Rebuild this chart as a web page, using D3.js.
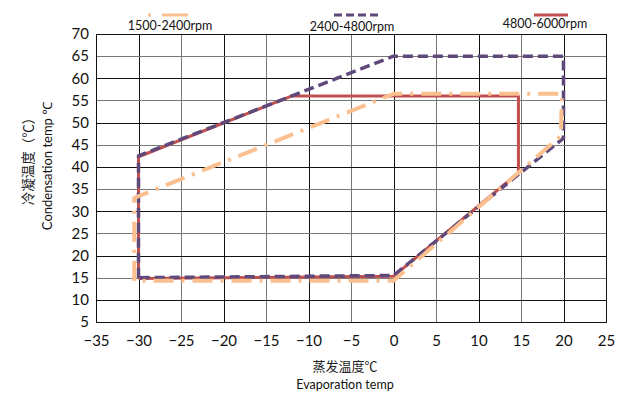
<!DOCTYPE html>
<html><head><meta charset="utf-8">
<script src="https://cdnjs.cloudflare.com/ajax/libs/d3/7.8.5/d3.min.js"></script>
<style>body{margin:0;background:#fff}svg{display:block}</style>
</head><body>
<svg id="c" width="625" height="393"></svg>
<script>
const seriesNames = ["1500-2400rpm", "2400-4800rpm", "4800-6000rpm"];
const evap1500 = [-30.5, -30.5, 0, 19.8, 19.7, 0, -30.5];
const cond1500 = [14.3, 33, 56.5, 56.5, 47, 14.3, 14.3];
const evap2400 = [-30, -30, 0, 20, 20, 0, -30];
const cond2400 = [15, 42.5, 65, 65, 46.5, 15.5, 15];
const evap4800 = [-30, -30, -12, 14.7, 14.7, 0, -30];
const cond4800 = [14.8, 42.3, 56, 56, 38.7, 15.3, 14.8];
const xTicks = [-35,-30,-25,-20,-15,-10,-5,0,5,10,15,20,25];
const yTicks = [5,10,15,20,25,30,35,40,45,50,55,60,65,70];

const svg = d3.select("#c");
const L = 96, R = 606, T = 34, B = 322;
const x = d3.scaleLinear().domain([-35,25]).range([L,R]);
const y = d3.scaleLinear().domain([5,70]).range([B,T]);
const font = "Lato, 'Noto Sans', sans-serif";

// grid
const g = svg.append("g");
g.selectAll("line.v").data(xTicks).join("line")
  .attr("x1", d=>Math.round(x(d))+0.5).attr("x2", d=>Math.round(x(d))+0.5).attr("y1", T).attr("y2", B)
  .attr("stroke", (d,i)=> i%2 ? "#111" : "#777").attr("stroke-width",1);
g.selectAll("line.h").data(yTicks).join("line")
  .attr("y1", d=>Math.round(y(d))+0.5).attr("y2", d=>Math.round(y(d))+0.5).attr("x1", L).attr("x2", R)
  .attr("stroke", (d,i)=> i%2 ? "#111" : "#777").attr("stroke-width",1);
g.append("rect").attr("x",L+0.5).attr("y",T+0.5).attr("width",R-L).attr("height",B-T)
  .attr("fill","none").attr("stroke","#111");

// axes labels
const xAxis = d3.axisBottom(x).tickValues(xTicks).tickSize(0).tickPadding(12);
const ax = svg.append("g").attr("transform",`translate(0,${B+1})`).call(xAxis);
ax.select(".domain").remove();
ax.selectAll("text").attr("font-family",font).attr("font-size",15).attr("fill","#111");
const yAxis = d3.axisLeft(y).tickValues(yTicks).tickSize(0).tickPadding(7);
const ay = svg.append("g").attr("transform",`translate(${L},0)`).call(yAxis);
ay.select(".domain").remove();
ay.selectAll("text").attr("font-family",font).attr("font-size",15).attr("fill","#111");

// series
const line = d3.line().x(d=>x(d[0])).y(d=>y(d[1]));
const series = [
  {name: seriesNames[2], pts: d3.zip(evap4800, cond4800), color:"#C0504D", w:3, dash:null},
  {name: seriesNames[1], pts: d3.zip(evap2400, cond2400), color:"#5F497A", w:3.5, dash:"10,5"},
  {name: seriesNames[0], pts: d3.zip(evap1500, cond1500), color:"#FAC090", w:4, dash:"20,8,3,8"}
];
series.forEach(s=>{
  svg.append("path").attr("d", line(s.pts)).attr("fill","none")
    .attr("stroke", s.color).attr("stroke-width", s.w)
    .attr("stroke-dasharray", s.dash).attr("stroke-linejoin","round");
});

// legend
const leg = [
  {name: seriesNames[0], x1:148, x2:188, tx:170, ty:30, color:"#FAC090", dash:"3,11,26"},
  {name: seriesNames[1], x1:334, x2:379, tx:352, ty:31, color:"#5F497A", dash:"8,4"},
  {name: seriesNames[2], x1:534, x2:568, tx:545, ty:28, color:"#C0504D", dash:null}
];
leg.forEach(l=>{
  svg.append("line").attr("x1",l.x1).attr("x2",l.x2).attr("y1",15).attr("y2",15)
    .attr("stroke",l.color).attr("stroke-width",3).attr("stroke-dasharray",l.dash);
  svg.append("text").attr("x",l.tx).attr("y",l.ty).attr("text-anchor","middle")
    .attr("font-family",font).attr("font-size",12.5).attr("fill","#111").text(l.name);
});

// axis titles
svg.append("text").attr("x",345).attr("y",371).attr("text-anchor","middle")
  .attr("font-family","'Noto Sans CJK SC', sans-serif").attr("font-size",13).attr("fill","#222").text("蒸发温度℃");
svg.append("text").attr("x",345).attr("y",389).attr("text-anchor","middle")
  .attr("font-family",font).attr("font-size",12.5).attr("fill","#111").text("Evaporation temp");
svg.append("text").attr("transform","translate(33,158) rotate(-90)").attr("text-anchor","middle")
  .attr("font-family","'Noto Sans CJK SC', sans-serif").attr("font-size",13.5).attr("fill","#222").text("冷凝温度（℃）");
svg.append("text").attr("transform","translate(52,166) rotate(-90)").attr("text-anchor","middle")
  .attr("font-family",font).attr("font-size",13).attr("fill","#111").text("Condensation temp ℃");
</script>
</body></html>
